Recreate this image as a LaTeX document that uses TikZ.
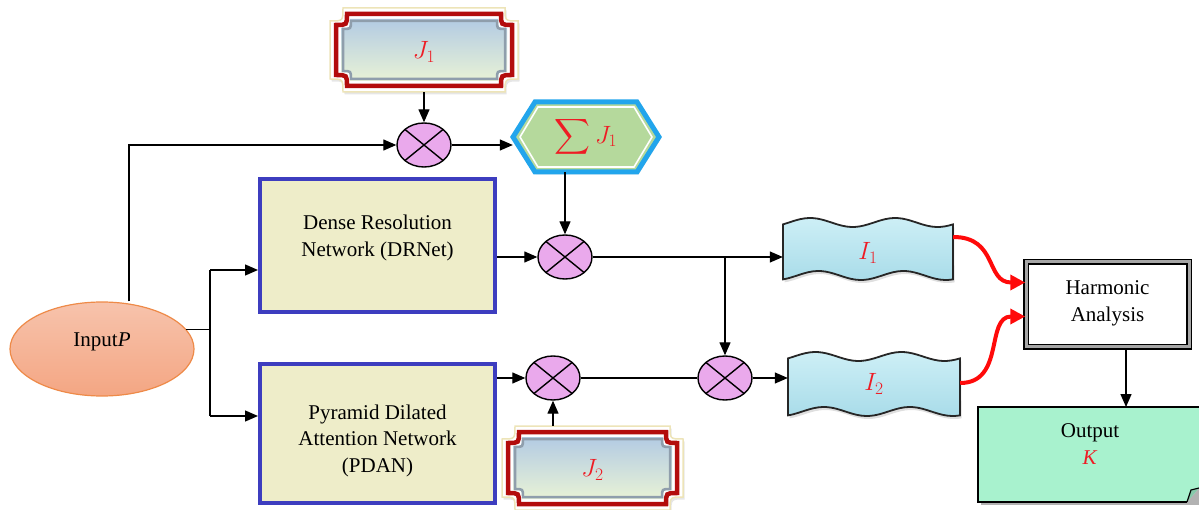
\documentclass[tikz,border=0pt]{standalone}
\usepackage{fix-cm}
\usepackage{exscale}
\usepackage{fontspec}
\setmainfont{Liberation Serif}
\usetikzlibrary{arrows.meta,shapes.geometric,shadows,calc}

\definecolor{plqred}{HTML}{B30C0C}
\definecolor{plqtop}{HTML}{B3CBE3}
\definecolor{plqbot}{HTML}{E8F2D6}
\definecolor{plqrim}{HTML}{8F9EAC}
\definecolor{cream}{HTML}{EDE4B8}
\definecolor{hexblue}{HTML}{22A5EC}
\definecolor{hexgreen}{HTML}{B5D99C}
\definecolor{boxfill}{HTML}{EEEDC9}
\definecolor{boxblue}{HTML}{3D3DBF}
\definecolor{mulpink}{HTML}{EAA9EC}
\definecolor{wavefill}{HTML}{A9DCE9}
\definecolor{wavelight}{HTML}{CDEFF6}
\definecolor{inptop}{HTML}{F7C3AC}
\definecolor{inpbot}{HTML}{F4A683}
\definecolor{inpedge}{HTML}{EE8A48}
\definecolor{docfill}{HTML}{A8F2CE}
\definecolor{docfold}{HTML}{86C9AA}
\definecolor{mathred}{HTML}{EE1C24}
\definecolor{curvered}{HTML}{FF0A0A}

% plaque outline with concave (notched) corners: x0 y0 x1 y1 radius
\newcommand\plq[5]{({#1+#5},{#2}) -- ({#3-#5},{#2}) .. controls ({#3-#5},{#2+#5}) .. ({#3},{#2+#5})
  -- ({#3},{#4-#5}) .. controls ({#3-#5},{#4-#5}) .. ({#3-#5},{#4})
  -- ({#1+#5},{#4}) .. controls ({#1+#5},{#4-#5}) .. ({#1},{#4-#5})
  -- ({#1},{#2+#5}) .. controls ({#1+#5},{#2+#5}) .. ({#1+#5},{#2}) -- cycle}

% framed plaque: halo, red frame, bevel and gradient face
\newcommand\drawplaque[4]{%
  \fill[white, drop shadow={opacity=.2,shadow xshift=1.5pt,shadow yshift=-2.5pt}] \plq{#1-6}{#2-6}{#3+6}{#4+6}{13};
  \draw[cream, line width=1.5pt] \plq{#1-6}{#2-6}{#3+6}{#4+6}{13};
  \draw[plqred, line width=4.5pt] \plq{#1}{#2}{#3}{#4}{11};
  \shade[top color=plqtop, bottom color=plqbot] \plq{#1+5}{#2+5}{#3-5}{#4-5}{9};
  \draw[plqrim, line width=2.5pt] \plq{#1+7}{#2+7}{#3-7}{#4-7}{8};
}

% wavy banner outline: x0 ytop x1 ybottom
\newcommand\wav[4]{plot[domain=0:1,samples=41,variable=\t] ({#1+\t*(#3-#1)},{#2+4.5*sin(720*\t+155)})
  -- plot[domain=1:0,samples=41,variable=\t] ({#1+\t*(#3-#1)},{#4+4.5*sin(720*\t+120)}) -- cycle}

% centred lines of text, moved up (positive) or down (negative) by #1
\newcommand\lift[2]{\raisebox{#1}[\height][\depth]{\begin{tabular}{@{}c@{}}#2\end{tabular}}}

\tikzset{
  lbl/.style={font=\fontsize{21}{26.5}\selectfont, align=center},
  holder/.style 2 args={inner sep=0pt, minimum width=#1, minimum height=#2},
  mul/.style={ellipse, draw=black, line width=1.4pt, fill=mulpink,
    minimum width=54pt, minimum height=44pt, inner sep=0pt,
    path picture={\draw[line width=1.4pt]
      (path picture bounding box.north west) -- (path picture bounding box.south east)
      (path picture bounding box.north east) -- (path picture bounding box.south west);}},
  netbox/.style={draw=boxblue, line width=4pt, fill=boxfill, minimum width=235pt, lbl},
  ln/.style={line width=1.3pt},
  arr/.style={line width=1.3pt, -{Triangle[length=13pt,width=11pt]}},
  redarr/.style={line width=4pt, curvered, -{Triangle[length=15pt,width=15pt]}},
  mathlbl/.style={text=mathred, font=\fontsize{25}{28}\selectfont},
}

\begin{document}
\begin{tikzpicture}[x=1pt, y=-1pt]
\useasboundingbox (0,0) rectangle (1199,510);
\clip (0,0) rectangle (1199,510);

% ---- input ----
\node[ellipse, draw=inpedge, line width=1.2pt, top color=inptop, bottom color=inpbot,
  minimum width=184pt, minimum height=94pt, inner sep=0pt, lbl] (inp) at (102,349) {\lift{8pt}{Input\textit{P}}};

% ---- weight plaques ----
\drawplaque{336}{14}{512}{86}
\node[holder={188pt}{84pt}, mathlbl] (j1) at (424,50) {\lift{-3pt}{$J_1$}};
\drawplaque{508}{432}{677}{504}
\node[holder={181pt}{84pt}, mathlbl] (j2) at (592.5,468) {\lift{-3pt}{$J_2$}};

% ---- summation hexagon ----
\filldraw[fill=hexgreen, draw=hexblue, line width=5pt, line join=miter,
  drop shadow={opacity=.2,shadow xshift=1.5pt,shadow yshift=-2.5pt}]
  (513,137) -- (535,102) -- (637,102) -- (659,137) -- (637,172) -- (535,172) -- cycle;
\draw[white, line width=1.6pt] (520,137) -- (538,107) -- (634,107) -- (652,137) -- (634,167) -- (538,167) -- cycle;
\node[holder={146pt}{70pt}, mathlbl] (hex) at (586,137) {$\displaystyle\sum J_1$};

% ---- networks ----
\node[netbox, minimum height=133pt] (drnet) at (377.5,245.5) {\lift{8pt}{Dense Resolution\\Network (DRNet)}};
\node[netbox, minimum height=139pt] (pdan) at (377.5,433.5) {\lift{-7pt}{Pyramid Dilated\\Attention Network\\(PDAN)}};

% ---- multipliers ----
\node[mul] (c1) at (424,145) {};
\node[mul] (c2) at (565,257) {};
\node[mul] (c3) at (725,378) {};
\node[mul] (c4) at (553,378) {};

% ---- intermediate banners ----
\path[draw=black!85, line width=1.8pt, top color=wavelight, bottom color=wavefill,
  drop shadow={opacity=.25,shadow xshift=1.5pt,shadow yshift=-3pt}] \wav{783}{222.5}{953}{275.5};
\node[holder={170pt}{62pt}, mathlbl] (i1) at (868,249) {\lift{-5pt}{$I_1$}};
\path[draw=black!85, line width=1.8pt, top color=wavelight, bottom color=wavefill,
  drop shadow={opacity=.25,shadow xshift=1.5pt,shadow yshift=-3pt}] \wav{788}{356.5}{960}{411.5};
\node[holder={172pt}{64pt}, mathlbl] (i2) at (874,384) {$I_2$};

% ---- harmonic analysis ----
\node[draw=black, line width=1.5pt, double=gray!70, double distance=3pt, fill=white,
  minimum width=163pt, minimum height=85pt, lbl] (harm) at (1107.5,304.5) {\lift{2pt}{Harmonic\\Analysis}};

% ---- output document (runs off the right edge) ----
\fill[black, opacity=.3] (981,410) -- (1199,410) -- (1199,505) -- (981,505) -- cycle;
\fill[docfill] (978,407) -- (1199,407) -- (1199,488) -- (1187,502) -- (978,502) -- cycle;
\draw[black, line width=2.2pt, line join=miter] (1199,407) -- (978,407) -- (978,502) -- (1187,502);
\filldraw[fill=docfold, draw=black, line width=1.2pt] (1187,502) -- (1191,490) -- (1199,488);
\node[holder={221pt}{95pt}] (output) at (1088.5,454.5) {};
\node[lbl] (outtxt) at (1090,444) {Output\\\textcolor{mathred}{\textit{K}}};

% ---- connectors ----
\coordinate (tl) at (129,145);
\coordinate (s1) at (210,270);
\coordinate (s2) at (210,416);
\coordinate (hdrop) at (1126,350);
\coordinate (dtop) at (1126,407);

\draw[arr] (inp.north -| tl) -- (tl) -- (c1.west);
\draw[ln] (inp.13) -- (inp.13 -| s1);
\draw[ln] (s1) -- (s2);
\draw[arr] (s1) -- (s1 -| drnet.west);
\draw[arr] (s2) -- (s2 -| pdan.west);

\draw[arr] (j1.south) -- (c1.north);
\draw[arr] (c1.east) -- (hex.west |- c1.east);
\draw[arr] (c2 |- hex.south) -- (c2.north);
\draw[arr] (drnet.east |- c2) -- (c2.west);
\draw[arr] (c2.east) -- (i1.west |- c2.east);
\draw[arr] (c3.north |- c2.east) -- (c3.north);

\draw[arr] (pdan.east |- c4) -- (c4.west);
\draw[arr] (c4 |- j2.north) -- (c4.south);
\draw[ln] (c4.east) -- (c3.west);
\draw[arr] (c3.east) -- (i2.west |- c3.east);

\draw[redarr] ([yshift=12pt]i1.east) .. controls +(45,0) and +(-40,0) .. ([yshift=22pt]harm.west);
\draw[redarr] ([yshift=1pt]i2.east) .. controls +(45,0) and +(-40,0) .. ([yshift=-12pt]harm.west);

\draw[arr] (hdrop) -- (dtop);
\end{tikzpicture}
\end{document}
